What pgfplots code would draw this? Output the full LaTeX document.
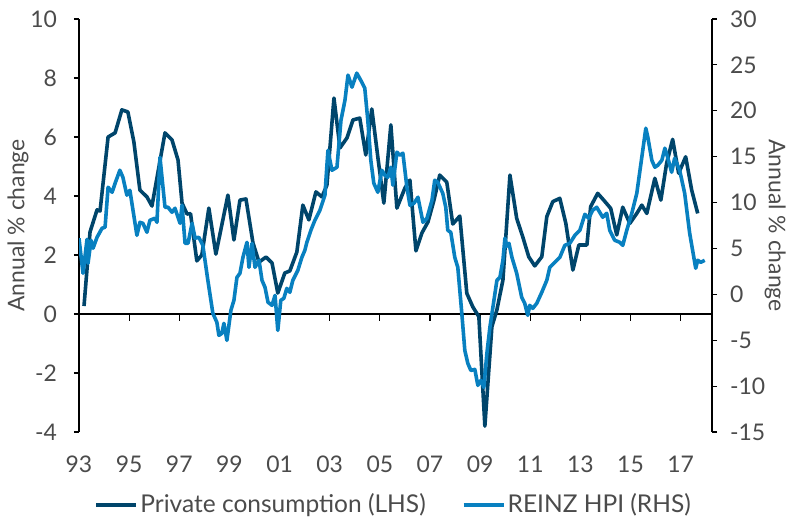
\documentclass[border=0pt]{standalone}
\usepackage{fontspec}
\setmainfont{Lato}
\usepackage{pgfplots}
\usepackage{pgfplotstable}
\pgfplotsset{compat=1.18}
\definecolor{pcdark}{RGB}{0,69,107}
\definecolor{hpiblue}{RGB}{8,128,192}
\definecolor{txt}{RGB}{75,75,75}

\pgfplotstableread{
year val
1993.20 0.27
1993.44 2.78
1993.72 3.53
1993.84 3.49
1994.16 6.00
1994.44 6.14
1994.71 6.92
1994.95 6.85
1995.19 5.83
1995.43 4.20
1995.71 3.97
1995.91 3.66
1996.43 6.14
1996.71 5.90
1996.95 5.22
1997.11 3.76
1997.31 3.39
1997.45 3.40
1997.70 1.80
1997.90 2.00
1998.18 3.59
1998.46 2.03
1998.94 4.03
1999.18 2.51
1999.42 3.86
1999.66 3.90
1999.94 2.41
2000.18 1.76
2000.46 1.93
2000.70 1.73
2000.93 0.71
2001.21 1.39
2001.41 1.46
2001.69 2.10
2001.93 3.69
2002.17 3.19
2002.45 4.14
2002.69 3.97
2002.89 4.37
2003.17 7.32
2003.41 5.63
2003.69 5.97
2003.93 6.58
2004.20 6.64
2004.44 5.39
2004.68 6.95
2004.92 5.32
2005.16 3.76
2005.44 6.41
2005.68 3.59
2006.00 4.27
2006.20 4.54
2006.44 2.14
2006.68 2.75
2006.92 3.12
2007.16 3.86
2007.39 4.71
2007.67 4.47
2007.91 3.05
2008.19 3.32
2008.47 0.70
2008.71 0.24
2008.95 -0.09
2009.19 -3.80
2009.47 -0.43
2009.67 0.14
2009.91 1.15
2010.19 4.71
2010.46 3.24
2010.70 2.62
2010.94 1.94
2011.18 1.63
2011.46 1.94
2011.66 3.30
2011.90 3.81
2012.18 3.92
2012.42 3.07
2012.70 1.49
2012.94 2.34
2013.26 2.34
2013.41 3.64
2013.69 4.09
2013.93 3.86
2014.21 3.58
2014.45 2.68
2014.69 3.62
2014.97 3.07
2015.25 3.41
2015.45 3.69
2015.65 3.41
2015.97 4.60
2016.21 3.86
2016.44 5.11
2016.68 5.92
2016.92 4.77
2017.20 5.33
2017.44 4.20
2017.68 3.41
}\pcdata

\pgfplotstableread{
year val
1993.00 6.11
1993.16 2.29
1993.32 6.00
1993.36 3.38
1993.48 5.89
1993.56 5.02
1993.72 6.22
1993.92 7.20
1994.04 7.31
1994.16 11.67
1994.32 11.12
1994.44 12.10
1994.63 13.52
1994.75 12.76
1994.91 10.80
1995.03 11.34
1995.31 6.43
1995.43 7.85
1995.55 7.74
1995.71 6.76
1995.83 8.07
1996.03 8.29
1996.11 7.85
1996.23 14.94
1996.43 9.49
1996.55 9.49
1996.71 8.94
1996.83 9.38
1997.03 7.74
1997.11 9.71
1997.23 5.56
1997.35 5.56
1997.51 7.74
1997.63 6.11
1997.78 6.22
1997.94 5.34
1998.14 1.53
1998.34 -2.07
1998.50 -3.05
1998.58 -4.47
1998.70 -4.25
1998.78 -3.16
1998.90 -5.02
1999.06 -1.74
1999.18 -0.65
1999.30 1.85
1999.42 2.29
1999.54 4.03
1999.70 5.67
1999.78 2.94
1999.90 5.56
2000.02 2.94
2000.18 3.71
2000.30 1.53
2000.42 0.76
2000.54 -0.87
2000.70 -1.20
2000.82 -0.11
2000.93 -3.93
2001.05 -0.65
2001.17 -0.44
2001.29 0.65
2001.41 0.22
2001.53 1.53
2001.73 2.62
2001.89 4.03
2002.01 4.80
2002.09 5.67
2002.25 6.98
2002.41 8.07
2002.61 9.16
2002.81 10.80
2002.93 15.70
2003.09 13.52
2003.29 13.85
2003.45 18.97
2003.61 21.16
2003.73 23.88
2003.89 22.57
2004.08 24.10
2004.28 23.12
2004.40 22.46
2004.52 18.97
2004.64 14.61
2004.76 12.10
2004.92 11.12
2005.08 13.52
2005.20 12.98
2005.32 12.76
2005.44 13.85
2005.52 11.89
2005.68 15.49
2005.80 15.16
2005.92 15.38
2006.08 11.67
2006.20 9.71
2006.36 9.92
2006.52 10.58
2006.72 7.85
2006.88 8.29
2007.08 10.25
2007.19 12.43
2007.31 12.21
2007.51 11.01
2007.63 9.49
2007.71 6.98
2007.83 6.76
2007.99 4.03
2008.11 2.94
2008.27 -2.07
2008.39 -6.11
2008.51 -7.52
2008.63 -8.29
2008.79 -8.18
2008.91 -9.92
2009.03 -9.38
2009.15 -10.14
2009.27 -6.43
2009.39 -3.60
2009.51 -1.42
2009.67 1.53
2009.79 1.85
2009.91 3.71
2009.99 6.11
2010.07 5.23
2010.15 5.56
2010.27 4.03
2010.46 2.29
2010.66 -0.33
2010.78 -0.98
2010.90 -2.29
2010.98 -1.20
2011.10 -1.53
2011.26 -0.98
2011.46 0.22
2011.66 1.53
2011.78 2.94
2011.98 3.49
2012.18 4.03
2012.38 5.34
2012.58 5.56
2012.78 6.43
2012.98 6.98
2013.18 8.72
2013.33 8.29
2013.49 9.16
2013.65 9.49
2013.89 8.40
2014.05 8.83
2014.17 6.98
2014.37 5.89
2014.57 5.67
2014.69 5.34
2014.85 6.98
2015.05 8.83
2015.25 11.01
2015.45 14.94
2015.61 18.10
2015.69 17.12
2015.85 14.61
2015.97 13.85
2016.09 14.07
2016.25 14.61
2016.37 15.92
2016.48 14.94
2016.64 13.30
2016.76 14.83
2016.96 13.52
2017.16 11.01
2017.36 6.65
2017.60 2.84
2017.68 3.71
2017.80 3.49
2017.96 3.71
}\hpidata

\begin{document}
\begin{tikzpicture}
\pgfplotsset{
  every axis/.append style={
    scale only axis, width=316.5bp, height=206.5bp,
    xmin=0, xmax=25.25,
    /pgf/number format/assume math mode=true,
    tick label style={font=\fontsize{11.5}{13}\selectfont, text=txt},
    label style={font=\fontsize{11.5}{13}\selectfont, text=txt},
    tick align=outside, major tick length=2.5bp,
    every tick/.style={black, line width=0.6bp},
    axis line style={black, line width=0.6bp},
  }
}
\begin{axis}[
  name=main,
  ymin=-4, ymax=10,
  axis y line*=left, axis x line*=bottom,
  x axis line style={draw=none},
  xtick={0,2,...,24},
  xticklabels={93,95,97,99,01,03,05,07,09,11,13,15,17},
  x tick style={draw=none},
  xticklabel style={yshift=-6bp},
  ytick={-4,-2,...,10},
  yticklabel style={xshift=-5bp},
  ylabel={Annual \% change},
  ylabel style={at={(axis description cs:-0.0964,0.5)}, anchor=center},
  legend style={at={(axis description cs:0.497,-0.176)}, anchor=center, draw=none, fill=none,
    legend columns=2, font=\fontsize{12.3}{14}\selectfont, text=txt,
    nodes={inner xsep=1bp, inner ysep=0.5bp},
    /tikz/every even column/.append style={column sep=17bp}},
  legend image code/.code={\draw[#1, line width=2bp] (0bp,0bp) -- (20bp,0bp);},
]
\draw[black, line width=0.6bp] (axis cs:0,0) -- (axis cs:25.25,0);
\draw[black, line width=0.6bp] (axis cs:0,0) -- (axis cs:0,-0.24);
\draw[black, line width=0.6bp] (axis cs:2,0) -- (axis cs:2,-0.24);
\draw[black, line width=0.6bp] (axis cs:4,0) -- (axis cs:4,-0.24);
\draw[black, line width=0.6bp] (axis cs:6,0) -- (axis cs:6,-0.24);
\draw[black, line width=0.6bp] (axis cs:8,0) -- (axis cs:8,-0.24);
\draw[black, line width=0.6bp] (axis cs:10,0) -- (axis cs:10,-0.24);
\draw[black, line width=0.6bp] (axis cs:12,0) -- (axis cs:12,-0.24);
\draw[black, line width=0.6bp] (axis cs:14,0) -- (axis cs:14,-0.24);
\draw[black, line width=0.6bp] (axis cs:16,0) -- (axis cs:16,-0.24);
\draw[black, line width=0.6bp] (axis cs:18,0) -- (axis cs:18,-0.24);
\draw[black, line width=0.6bp] (axis cs:20,0) -- (axis cs:20,-0.24);
\draw[black, line width=0.6bp] (axis cs:22,0) -- (axis cs:22,-0.24);
\draw[black, line width=0.6bp] (axis cs:24,0) -- (axis cs:24,-0.24);
\addplot[pcdark, line width=1.8bp, line join=round] table[x expr=\thisrow{year}-1993, y=val] {\pcdata};
\addlegendentry{Private consumption (LHS)}
\addlegendimage{hpiblue, line width=1.8bp}
\addlegendentry{REINZ HPI (RHS)}
\end{axis}
\begin{axis}[
  ymin=-15, ymax=30,
  axis y line*=right, axis x line=none,
  ytick={-15,-10,...,30},
  yticklabel style={xshift=3bp},
  ylabel={Annual \% change},
  ylabel style={at={(axis description cs:1.1,0.5)}, anchor=center, rotate=180},
]
\addplot[hpiblue, line width=1.8bp, line join=round] table[x expr=\thisrow{year}-1993, y=val] {\hpidata};
\end{axis}
\pgfresetboundingbox
\path (main.south west) ++(-39.5bp,-45bp) coordinate (bbA);
\path (main.north east) ++(37.5bp,9.5bp) coordinate (bbB);
\path[use as bounding box] (bbA) rectangle (bbB);
\end{tikzpicture}
\end{document}
